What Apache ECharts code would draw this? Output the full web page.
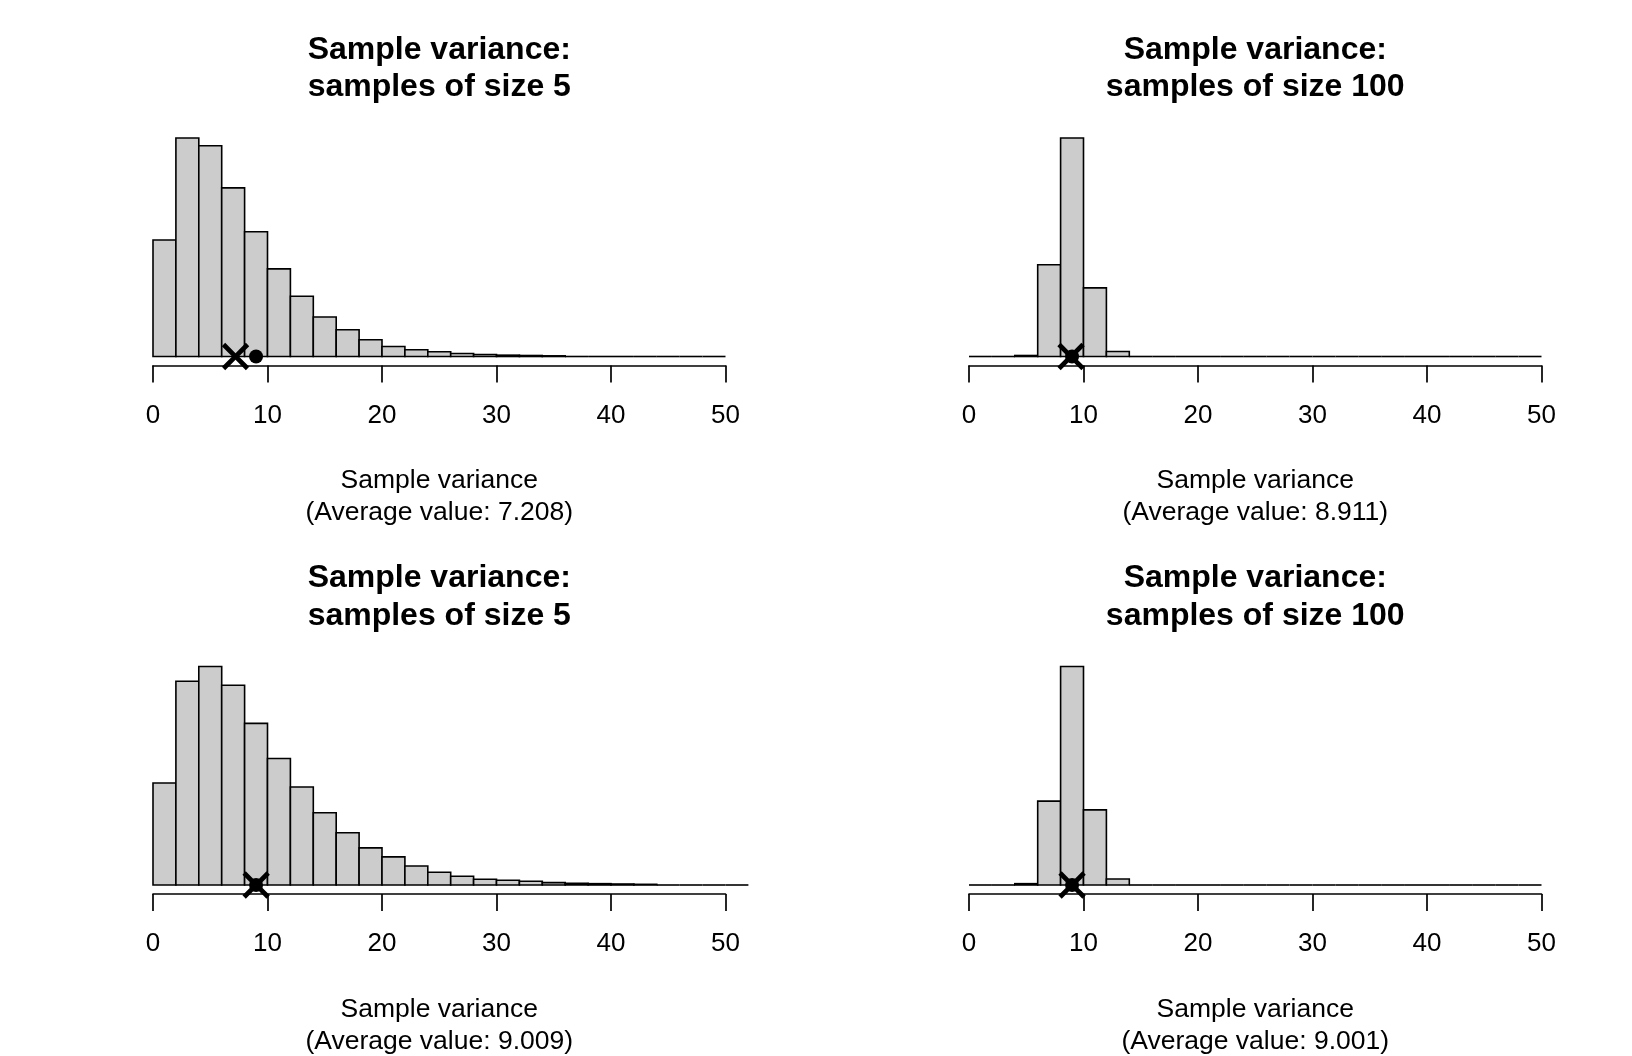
<!DOCTYPE html>
<html>
<head>
<meta charset="utf-8">
<title>Sample variance histograms</title>
<script src="https://cdn.jsdelivr.net/npm/echarts@6/dist/echarts.min.js"></script>
<style>
  html, body { margin: 0; padding: 0; background: #fff; }
  #chart { width: 1632px; height: 1056px; }
</style>
</head>
<body>
<div id="chart"></div>
<script>
'use strict';

// bin edges shared by all four histograms (width 2)
const breaks = [0, 2, 4, 6, 8, 10, 12, 14, 16, 18, 20, 22, 24, 26, 28, 30,
  32, 34, 36, 38, 40, 42, 44, 46, 48, 50, 52];

// frequencies (relative heights)
const countsSize5Top = [348, 653, 630, 504, 373, 262, 180, 118, 80, 50, 30, 20,
  14, 9, 6, 4, 3, 2, 1, 1, 1, 0, 0, 0, 0];
const countsSize100Top = [0, 0, 3, 274, 653, 205, 15, 0, 0, 0, 0, 0,
  0, 0, 0, 0, 0, 0, 0, 0, 0, 0, 0, 0, 0];
const countsSize5Bottom = [305, 609, 653, 597, 483, 378, 293, 216, 156, 111, 84, 57,
  38, 26, 17, 14, 11, 7, 5, 4, 3, 2, 1, 1, 1, 1];
const countsSize100Bottom = [0, 0, 4, 251, 654, 225, 18, 0, 0, 0, 0, 0,
  0, 0, 0, 0, 0, 0, 0, 0, 0, 0, 0, 0, 0];

const averageValues = [7.208, 8.911, 9.009, 9.001];
const trueVariance = 9;

const panelTitles = [
  'Sample variance:\nsamples of size 5',
  'Sample variance:\nsamples of size 100',
  'Sample variance:\nsamples of size 5',
  'Sample variance:\nsamples of size 100',
];
const axisTitle = 'Sample variance';

(function () {
  const FONT = '"Liberation Sans", Arial, Helvetica, sans-serif';
  const LEFT = [153, 969];
  const PLOT_W = 572.5;
  const TOP = [138, 666.5];
  const PLOT_H = 218.5;
  // thick "x" (plus rotated 45deg)
  const CROSS = 'path://M43,0H57V43H100V57H57V100H43V57H0V43H43Z';

  function binData(counts) {
    return counts.map((c, i) => [breaks[i], breaks[i + 1], c]);
  }

  function renderBin(params, api) {
    const p0 = api.coord([api.value(0), api.value(2)]);
    const p1 = api.coord([api.value(1), 0]);
    const h = p1[1] - p0[1];
    // empty bins still show as a flat segment on the baseline
    if (h < 0.5) {
      return {
        type: 'line',
        shape: { x1: p0[0], y1: p1[1], x2: p1[0], y2: p1[1] },
        style: { stroke: '#000', lineWidth: 1.6 },
      };
    }
    return {
      type: 'rect',
      shape: { x: p0[0], y: p0[1], width: p1[0] - p0[0], height: h },
      style: { fill: '#cccccc', stroke: '#000', lineWidth: 1.6 },
    };
  }

  function xAxisCfg(gridIndex, max, visible) {
    return {
      type: 'value',
      gridIndex,
      min: 0,
      max,
      interval: 10,
      offset: 9,
      show: visible,
      axisLine: { show: visible, onZero: false, lineStyle: { color: '#000', width: 1.7 } },
      axisTick: { show: visible, length: 17, lineStyle: { color: '#000', width: 1.7 } },
      axisLabel: { show: visible, color: '#000', fontSize: 26, fontFamily: FONT, margin: 37 },
      splitLine: { show: false },
    };
  }

  function yAxisCfg(gridIndex, max) {
    return { type: 'value', gridIndex, min: 0, max, show: false, splitLine: { show: false } };
  }

  const grids = [];
  const xAxes = [];
  const yAxes = [];
  const series = [];
  const graphics = [];

  const panels = [
    { counts: countsSize5Top, col: 0, row: 0, xMax: 50 },
    { counts: countsSize100Top, col: 1, row: 0, xMax: 50 },
    { counts: countsSize5Bottom, col: 0, row: 1, xMax: 52 },
    { counts: countsSize100Bottom, col: 1, row: 1, xMax: 50 },
  ];

  panels.forEach((p, k) => {
    const left = LEFT[p.col];
    const top = TOP[p.row];
    const gi = grids.length;
    const dataW = PLOT_W * p.xMax / 50;
    grids.push({ left, top, width: dataW, height: PLOT_H, outerBoundsMode: 'none' });
    xAxes.push(xAxisCfg(gi, p.xMax, p.xMax === 50));
    yAxes.push(yAxisCfg(gi, Math.max(...p.counts)));

    // histogram wider than the axis: draw the 0..50 axis on its own grid
    if (p.xMax !== 50) {
      const ai = grids.length;
      grids.push({ left, top, width: PLOT_W, height: PLOT_H, outerBoundsMode: 'none' });
      xAxes.push(xAxisCfg(ai, 50, true));
      yAxes.push(yAxisCfg(ai, 1));
    }

    series.push({
      type: 'custom',
      xAxisIndex: gi,
      yAxisIndex: gi,
      renderItem: renderBin,
      encode: { x: [0, 1], y: 2 },
      data: binData(p.counts),
      silent: true,
    });
    series.push({
      type: 'scatter',
      xAxisIndex: gi,
      yAxisIndex: gi,
      clip: false,
      symbol: 'circle',
      symbolSize: 14,
      itemStyle: { color: '#000', opacity: 1 },
      data: [[trueVariance, 0]],
      z: 5,
    });
    series.push({
      type: 'scatter',
      xAxisIndex: gi,
      yAxisIndex: gi,
      clip: false,
      symbol: CROSS,
      symbolSize: 34,
      symbolRotate: 45,
      itemStyle: { color: '#000', opacity: 1 },
      data: [[averageValues[k], 0]],
      z: 6,
    });

    const cx = left + PLOT_W / 2;
    const rowShift = p.row * 528.5;
    graphics.push({
      type: 'text',
      x: cx,
      y: 68.5 + rowShift,
      style: {
        text: panelTitles[k],
        fill: '#000',
        font: `bold 32px ${FONT}`,
        align: 'center',
        verticalAlign: 'middle',
        lineHeight: 37.5,
      },
    });
    graphics.push({
      type: 'text',
      x: cx,
      y: 497 + rowShift,
      style: {
        text: `${axisTitle}\n(Average value: ${averageValues[k].toFixed(3)})`,
        fill: '#000',
        font: `26.5px ${FONT}`,
        align: 'center',
        verticalAlign: 'middle',
        lineHeight: 32,
      },
    });
  });

  const chart = echarts.init(document.getElementById('chart'), null, { renderer: 'canvas' });
  chart.setOption({
    backgroundColor: '#fff',
    animation: false,
    grid: grids,
    xAxis: xAxes,
    yAxis: yAxes,
    series,
    graphic: graphics,
  });
})();
</script>
</body>
</html>
